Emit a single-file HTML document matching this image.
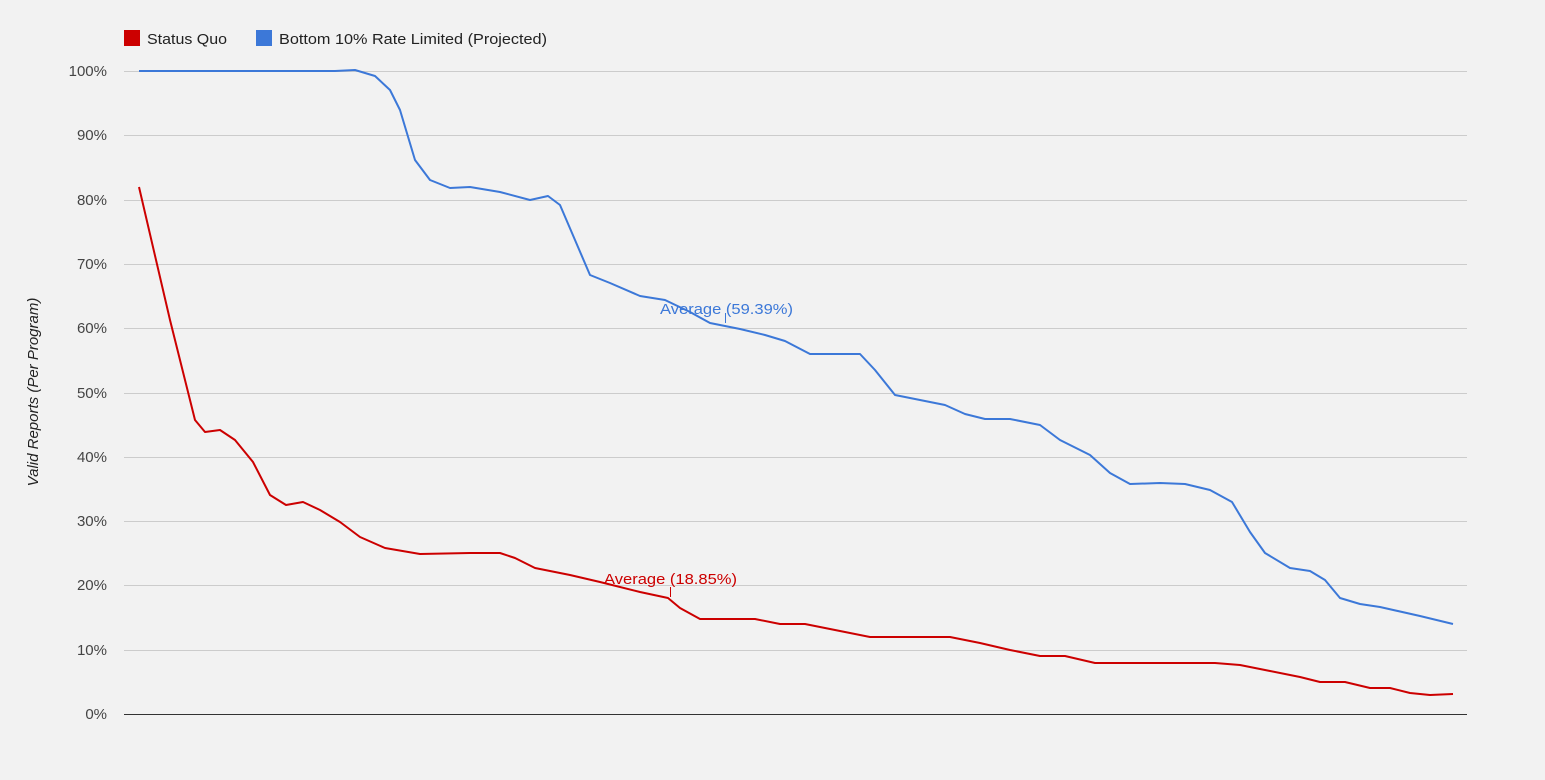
<!DOCTYPE html>
<html><head><meta charset="utf-8"><style>
html,body{margin:0;padding:0;background:#f2f2f2;}
svg{display:block;font-family:"Liberation Sans",Arial,sans-serif;}
</style></head><body>
<svg width="1545" height="780" viewBox="0 0 1545 780">
<rect width="1545" height="780" fill="#f2f2f2"/>
<rect x="124" y="30" width="16" height="16" fill="#cc0000"/>
<text x="147" y="44" font-size="15" fill="#222" textLength="80" lengthAdjust="spacingAndGlyphs">Status Quo</text>
<rect x="256" y="30" width="16" height="16" fill="#3c78d8"/>
<text x="279" y="44" font-size="15" fill="#222" textLength="268" lengthAdjust="spacingAndGlyphs">Bottom 10% Rate Limited (Projected)</text>
<g stroke="#cccccc" stroke-width="1">
<line x1="124" x2="1467" y1="71.5" y2="71.5"/><line x1="124" x2="1467" y1="135.5" y2="135.5"/>
<line x1="124" x2="1467" y1="200.5" y2="200.5"/><line x1="124" x2="1467" y1="264.5" y2="264.5"/>
<line x1="124" x2="1467" y1="328.5" y2="328.5"/><line x1="124" x2="1467" y1="393.5" y2="393.5"/>
<line x1="124" x2="1467" y1="457.5" y2="457.5"/><line x1="124" x2="1467" y1="521.5" y2="521.5"/>
<line x1="124" x2="1467" y1="585.5" y2="585.5"/><line x1="124" x2="1467" y1="650.5" y2="650.5"/>
</g>
<line x1="124" x2="1467" y1="714.5" y2="714.5" stroke="#333"/>
<g font-size="15" fill="#444" text-anchor="end">
<text x="107" y="76">100%</text><text x="107" y="140">90%</text><text x="107" y="205">80%</text>
<text x="107" y="269">70%</text><text x="107" y="333">60%</text><text x="107" y="398">50%</text>
<text x="107" y="462">40%</text><text x="107" y="526">30%</text><text x="107" y="590">20%</text>
<text x="107" y="655">10%</text><text x="107" y="719">0%</text>
</g>
<text transform="translate(38,392) rotate(-90)" font-size="15" font-style="italic" fill="#222" text-anchor="middle">Valid Reports (Per Program)</text>
<polyline fill="none" stroke="#3c78d8" stroke-width="2" stroke-linejoin="round" points="139,71 335,71 355,70 375,76 390,90 400,110 415,160 430,180 450,188 470,187 500,192 530,200 548,196 560,205 575,240 590,275 610,283 640,296 665,300 690,312 710,323 740,329 765,335 785,341 810,354 835,354 860,354 875,370 895,395 915,399 945,405 965,414 985,419 1010,419 1040,425 1060,440 1090,455 1110,473 1130,484 1160,483 1185,484 1210,490 1232,502 1250,532 1265,553 1290,568 1310,571 1325,580 1340,598 1360,604 1380,607 1420,616 1453,624"/>
<polyline fill="none" stroke="#cc0000" stroke-width="2" stroke-linejoin="round" points="139,187 170,320 195,420 205,432 220,430 235,440 253,462 270,495 286,505 303,502 320,510 340,522 360,537 385,548 420,554 470,553 500,553 515,558 535,568 570,575 600,582 640,592 668,598 680,608 700,619 720,619 755,619 780,624 805,624 840,631 870,637 900,637 950,637 980,643 1010,650 1040,656 1065,656 1095,663 1130,663 1215,663 1240,665 1270,671 1300,677 1320,682 1345,682 1370,688 1390,688 1410,693 1430,695 1453,694"/>
<line x1="725.5" x2="725.5" y1="313" y2="323" stroke="#3c78d8"/>
<text x="660" y="314" font-size="15" fill="#3c78d8" textLength="133" lengthAdjust="spacingAndGlyphs">Average (59.39%)</text>
<line x1="670.5" x2="670.5" y1="587" y2="597" stroke="#cc0000"/>
<text x="604" y="584" font-size="15" fill="#cc0000" textLength="133" lengthAdjust="spacingAndGlyphs">Average (18.85%)</text>
</svg>
</body></html>
